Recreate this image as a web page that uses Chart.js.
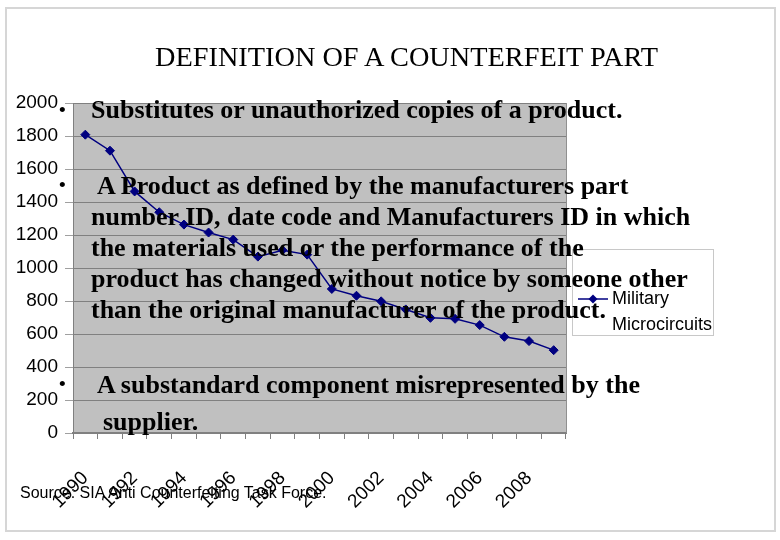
<!DOCTYPE html>
<html><head><meta charset="utf-8">
<script src="https://cdn.jsdelivr.net/npm/chart.js@4.4.0/dist/chart.umd.min.js"></script>
<style>
html,body{margin:0;padding:0;background:#fff;}
#wrap{position:relative;width:780px;height:540px;overflow:hidden;background:#fff;}
#frame{position:absolute;left:5px;top:7px;width:767px;height:521px;border:2px solid #d6d6d6;}
canvas{position:absolute;left:0;top:0;}
.t{position:absolute;white-space:nowrap;color:#000;}
#title{left:0;width:813px;text-align:center;top:40px;font:28.3px "Liberation Serif","Times New Roman",serif;line-height:34px;}
.b{font:bold 26px "Liberation Serif","Times New Roman",serif;line-height:30px;}
.dot{font:19px "Liberation Sans",Arial,sans-serif;line-height:20px;}
#src{left:20px;top:482px;font:16px "Liberation Sans",Arial,sans-serif;line-height:22px;}
</style></head><body>
<div id="wrap">
<div id="frame"></div>
<canvas id="c" width="780" height="540"></canvas>
<div class="t" id="title">DEFINITION OF A COUNTERFEIT PART</div>
<div class="t dot" style="left:59px;top:100px;">•</div>
<div class="t b" style="left:91px;top:95px;">Substitutes or unauthorized copies of a product.</div>
<div class="t dot" style="left:59px;top:175px;">•</div>
<div class="t b" style="left:97px;top:171px;">A Product as defined by the manufacturers part</div>
<div class="t b" style="left:91px;top:202px;">number ID, date code and Manufacturers ID in which</div>
<div class="t b" style="left:91px;top:233px;">the materials used or the performance of the</div>
<div class="t b" style="left:91px;top:264px;">product has changed without notice by someone other</div>
<div class="t b" style="left:91px;top:295px;">than the original manufacturer of the product.</div>
<div class="t dot" style="left:59px;top:374px;">•</div>
<div class="t b" style="left:97px;top:370px;">A substandard component misrepresented by the</div>
<div class="t b" style="left:103px;top:407px;">supplier.</div>
<div class="t" id="src">Source: SIA Anti Counterfeiting Task Force.</div>
</div>
<script>
const years = ['1990','1991','1992','1993','1994','1995','1996','1997','1998','1999','2000','2001','2002','2003','2004','2005','2006','2007','2008','2009'];
const seriesName = 'Military Microcircuits';
const militaryMicrocircuits = [1808,1711,1464,1338,1263,1215,1172,1069,1108,1081,873,832,798,749,698,692,654,583,557,502];
const yMin = 0, yMax = 2000, yStep = 200;

const SANS = "'Liberation Sans Narrow','Arial Narrow','Liberation Sans',Arial,sans-serif";
const navy = '#000080';

const plotBg = {
  id:'plotBg',
  beforeDraw(chart){
    const a = chart.chartArea, c = chart.ctx;
    c.save(); c.fillStyle = '#c0c0c0';
    c.fillRect(a.left, a.top, a.right - a.left, a.bottom - a.top);
    c.restore();
  },
  beforeDatasetsDraw(chart){
    const a = chart.chartArea, c = chart.ctx;
    c.save(); c.strokeStyle = '#909090'; c.lineWidth = 1;
    c.beginPath(); c.moveTo(Math.round(a.right)+0.5, a.top); c.lineTo(Math.round(a.right)+0.5, a.bottom); c.stroke();
    c.restore();
  }
};

const legendBox = {
  id:'legendBox',
  afterDraw(chart){
    const c = chart.ctx, ds = chart.data.datasets[0];
    const x = 572.5, y = 249.5, w = 141, h = 86;
    c.save();
    c.fillStyle = '#fff'; c.fillRect(x, y, w, h);
    c.strokeStyle = '#c8c8c8'; c.lineWidth = 1; c.strokeRect(x, y, w, h);
    const ly = 299;
    c.strokeStyle = ds.borderColor; c.lineWidth = 1.5;
    c.beginPath(); c.moveTo(578, ly); c.lineTo(608, ly); c.stroke();
    c.fillStyle = ds.backgroundColor;
    c.beginPath(); c.moveTo(593, ly-4.5); c.lineTo(597.5, ly); c.lineTo(593, ly+4.5); c.lineTo(588.5, ly); c.closePath(); c.fill();
    c.fillStyle = '#000'; c.font = '18px ' + SANS; c.textBaseline = 'middle'; c.textAlign = 'left';
    const parts = ds.label.split(' ');
    c.fillText(parts[0], 612, ly);
    c.fillText(parts.slice(1).join(' '), 612, ly + 26);
    c.restore();
  }
};

new Chart(document.getElementById('c').getContext('2d'), {
  type:'line',
  data:{labels:years, datasets:[{label:seriesName, data:militaryMicrocircuits, borderColor:navy, backgroundColor:navy, borderWidth:1.5, pointStyle:'rectRot', pointRadius:4.5, pointHoverRadius:4.5, pointBorderWidth:1, tension:0, fill:false}]},
  options:{
    responsive:false, animation:false, events:[],
    layout:{padding:{left:0, top:103, right:214, bottom:0}},
    plugins:{legend:{display:false}, tooltip:{enabled:false}, title:{display:false}},
    scales:{
      x:{
        offset:true,
        grid:{offset:true, drawOnChartArea:false, drawTicks:true, tickLength:6, color:'#808080'},
        border:{color:'#808080', width:2},
        ticks:{autoSkip:false, minRotation:45, maxRotation:45, padding:28, color:'#000', font:{family:SANS, size:19},
          callback:function(v,i){ return i % 2 === 0 ? this.getLabelForValue(v) : ''; }},
        afterFit:s=>{ s.height = 107; }
      },
      y:{
        min:yMin, max:yMax,
        ticks:{stepSize:yStep, padding:7, color:'#000', font:{family:SANS, size:19}, callback:v=>String(v)},
        grid:{color:'#808080', tickLength:8, tickColor:'#a0a0a0'},
        border:{color:'#808080', width:1},
        afterFit:s=>{ s.width = 73; }
      }
    }
  },
  plugins:[plotBg, legendBox]
});
</script>
</body></html>
